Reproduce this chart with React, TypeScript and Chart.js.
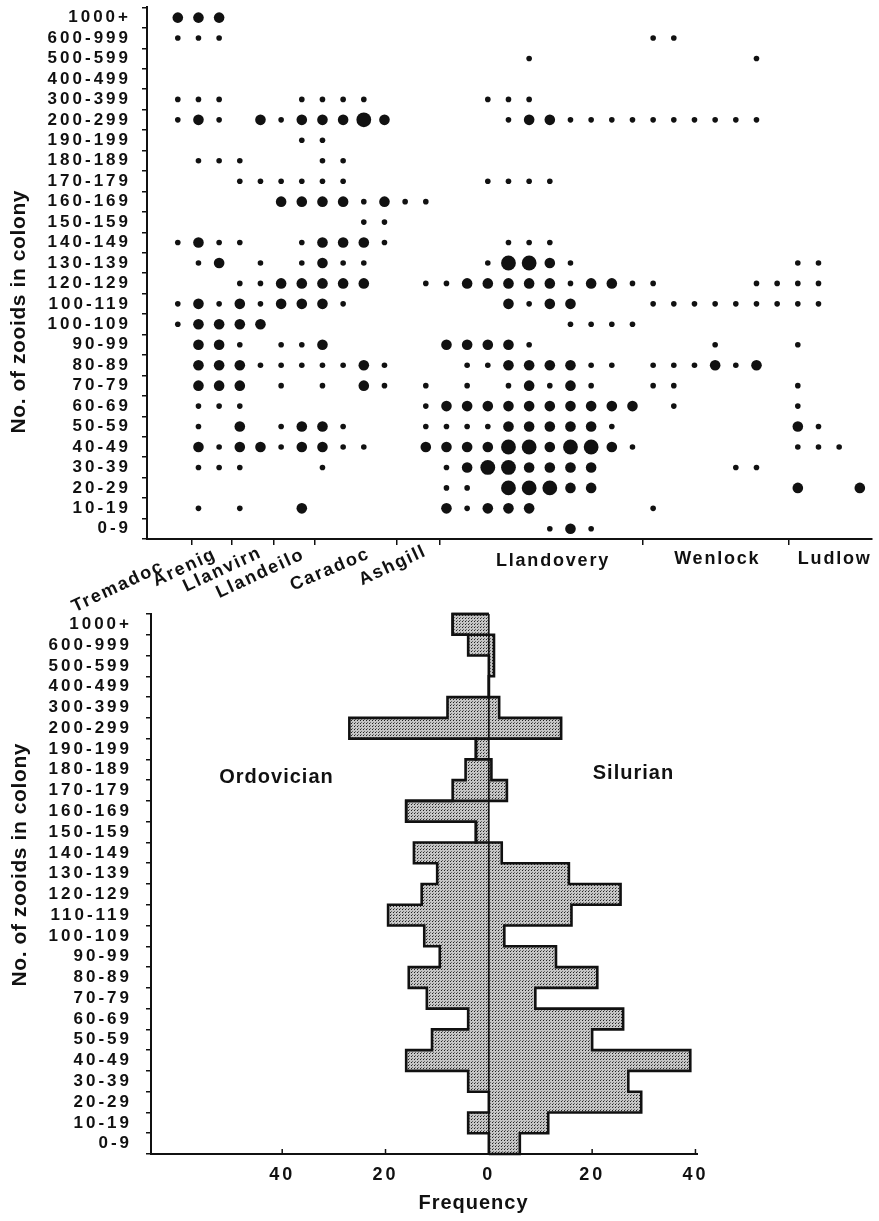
import React, { useEffect, useRef } from 'react';
import { Chart, registerables } from 'chart.js';

Chart.register(...registerables);

const FONT = '"Liberation Sans", Arial, Helvetica, sans-serif';
const INK = '#111';

// ---------- data: top chart (rows listed top to bottom) ----------
const topRowLabels = ['1000+', '600-999', '500-599', '400-499', '300-399', '200-299', '190-199', '180-189', '170-179', '160-169', '150-159', '140-149', '130-139', '120-129', '100-119', '100-109', '90-99', '80-89', '70-79', '60-69', '50-59', '40-49', '30-39', '20-29', '10-19', '0-9'];

// one string per row; one character per sample column 0..33
// '.' no colonies, '1' small dot, '2' large dot, '3' very large dot
const dotRows = [
  '222....... .......... .......... ....',
  '111....... .......... ...11..... ....',
  '.......... .......1.. ........1. ....',
  '.......... .......... .......... ....',
  '111...1111 .....111.. .......... ....',
  '121.212223 2.....1221 111111111. ....',
  '......11.. .......... .......... ....',
  '.111...11. .......... .......... ....',
  '...111111. .....1111. .......... ....',
  '.....22221 211....... .......... ....',
  '.........1 1......... .......... ....',
  '1211..1222 1.....111. .......... ....',
  '.12.1.1211 .....13321 .......... 11..',
  '...1122222 ..11222221 2211....11 11..',
  '121212221. ......2122 ...1111111 11..',
  '12222..... .........1 111....... ....',
  '.221.112.. ...22221.. ......1... 1...',
  '.222111112 1...112222 11.111212. ....',
  '.222.1.1.2 1.1.1.1212 1..11..... 1...',
  '.111...... ..12222222 222.1..... 1...',
  '.1.2.1221. ..11112222 21........ 21..',
  '.212212211 ..22223323 321....... 111.',
  '.111...1.. ...1233222 2......11. ....',
  '.......... ...11.3332 2......... 2..2',
  '.1.1..2... ...21222.. ...1...... ....',
  '.......... ........12 1......... ....',
];

const periodNames = ['Tremadoc', 'Arenig', 'Llanvirn', 'Llandeilo', 'Caradoc', 'Ashgill', 'Llandovery', 'Wenlock', 'Ludlow'];
// period boundaries in column units
const periodBounds = [0.67, 2.6, 4.62, 6.65, 10.6, 12.67, 22.5, 29.58];

// ---------- data: bottom chart (rows listed top to bottom) ----------
const bottomRowLabels = ['1000+', '600-999', '500-599', '400-499', '300-399', '200-299', '190-199', '180-189', '170-179', '160-169', '150-159', '140-149', '130-139', '120-129', '110-119', '100-109', '90-99', '80-89', '70-79', '60-69', '50-59', '40-49', '30-39', '20-29', '10-19', '0-9'];
const ordovician = [-7, -4, 0, 0, -8, -27, -2.5, -4.5, -7, -16, -2.5, -14.5, -10, -13, -19.5, -12.5, -9.5, -15.5, -12, -4, -11, -16, -4, 0, -4, 0];
const silurian = [0, 1, 1, 0, 2, 14, 0, 0.5, 3.5, 0, 0, 2.5, 15.5, 25.5, 16, 3, 13, 21, 9, 26, 20, 39, 27, 29.5, 11.5, 6];
const freqTicks = [-40, -20, 0, 20, 40];

// ---------- layout / style constants ----------
const dotRadius: Record<string, number> = { '1': 2.8, '2': 5.3, '3': 7.4 };
const TOP_XMIN = -1.49;
const TOP_XMAX = 33.57;
const TOP_H = 622;
// period label anchors: column position, px below axis, rotation (deg)
const periodLabelX = [-2.94, 0.29, 2.12, 3.95, 7.32, 10.36, 18.11, 26.06, 31.74];
const periodLabelDy = [48, 29, 31, 35, 31, 27, 22, 20, 20];
const periodLabelAngle = [-25, -25, -25, -25, -23, -25, 0, 0, 0];

function drawText(ctx: CanvasRenderingContext2D, text: string, x: number, y: number, size: number, spacing: number, angleDeg = 0) {
  ctx.save();
  (ctx as any).letterSpacing = spacing + 'px';
  ctx.font = `bold ${size}px ${FONT}`;
  ctx.fillStyle = INK;
  ctx.textAlign = 'center';
  ctx.textBaseline = 'middle';
  ctx.translate(x, y);
  ctx.rotate((angleDeg * Math.PI) / 180);
  ctx.fillText(text, spacing / 2, 0);
  ctx.restore();
}

function makeStipple(): CanvasPattern | string {
  const c = document.createElement('canvas');
  c.width = 3;
  c.height = 3;
  const g = c.getContext('2d');
  if (!g) return '#aaaaaa';
  g.fillStyle = '#c6c6c6';
  g.fillRect(0, 0, 3, 3);
  g.fillStyle = '#222222';
  g.fillRect(0, 0, 1, 1);
  g.fillStyle = '#6a6a6a';
  g.fillRect(1, 2, 1, 1);
  return g.createPattern(c, 'repeat') || '#aaaaaa';
}

const spacingPlugin = {
  id: 'tickSpacing',
  beforeDraw(chart: any) {
    (chart.ctx as any).letterSpacing = '3px';
  },
};

const tickFont = { family: FONT, size: 17, weight: 'bold' as const };

export default function App() {
  const topRef = useRef<HTMLCanvasElement>(null);
  const botRef = useRef<HTMLCanvasElement>(null);

  useEffect(() => {
    const charts: Chart[] = [];

    // ---------------- top bubble chart ----------------
    const points: { x: number; y: string; r: number }[] = [];
    dotRows.forEach((row, ri) => {
      const cells = row.replace(/ /g, '');
      for (let k = 0; k < cells.length; k++) {
        const c = cells[k];
        if (c !== '.') points.push({ x: k, y: topRowLabels[ri], r: dotRadius[c] });
      }
    });

    const topDecor = {
      id: 'topDecor',
      afterDraw(chart: any) {
        const ctx = chart.ctx as CanvasRenderingContext2D;
        const xs = chart.scales.x;
        const bottom = chart.chartArea.bottom;
        periodNames.forEach((name, i) => {
          drawText(ctx, name, xs.getPixelForValue(periodLabelX[i]), bottom + periodLabelDy[i], 18, 1.8, periodLabelAngle[i]);
        });
        drawText(ctx, 'No. of zooids in colony', 19, 312, 21, 0.6, -90);
      },
    };

    if (topRef.current) {
      charts.push(
        new Chart(topRef.current, {
          type: 'bubble',
          data: {
            datasets: [
              {
                data: points as any,
                backgroundColor: INK,
                borderWidth: 0,
                clip: false as any,
              },
            ],
          },
          options: {
            responsive: false,
            animation: false,
            devicePixelRatio: 1,
            events: [],
            layout: { padding: { top: 3, right: 4, left: 0, bottom: 0 } },
            plugins: { legend: { display: false }, tooltip: { enabled: false } },
            scales: {
              x: {
                type: 'linear',
                min: TOP_XMIN,
                max: TOP_XMAX,
                afterBuildTicks: (s: any) => {
                  s.ticks = periodBounds.map((v) => ({ value: v }));
                },
                afterFit: (s: any) => {
                  s.height = TOP_H - 539;
                  s.paddingLeft = 0;
                  s.paddingRight = 0;
                },
                grid: { display: true, drawOnChartArea: false, drawTicks: true, tickLength: 6, color: INK, lineWidth: 1.5 },
                border: { display: true, color: INK, width: 2 },
                ticks: { autoSkip: false, callback: () => '' },
              },
              y: {
                type: 'category',
                labels: topRowLabels,
                offset: true,
                afterFit: (s: any) => {
                  s.width = 147;
                  s.paddingTop = 0;
                  s.paddingBottom = 0;
                },
                grid: { display: true, offset: true, drawOnChartArea: false, drawTicks: true, tickLength: 5, color: INK, lineWidth: 1.5 },
                border: { display: true, color: INK, width: 2 },
                ticks: { autoSkip: false, color: INK, font: tickFont, padding: 11 },
              },
            },
          },
          plugins: [spacingPlugin, topDecor],
        } as any)
      );
    }

    // ---------------- bottom back-to-back histogram ----------------
    const stipple = makeStipple();

    const histDecor = {
      id: 'histDecor',
      afterDatasetsDraw(chart: any) {
        const ctx = chart.ctx as CanvasRenderingContext2D;
        const xs = chart.scales.x;
        const base = xs.getPixelForValue(0);
        ctx.save();
        ctx.strokeStyle = INK;
        ctx.lineWidth = 2.6;
        ctx.lineJoin = 'miter';
        chart.data.datasets.forEach((_: any, di: number) => {
          const els = chart.getDatasetMeta(di).data as any[];
          if (!els.length) return;
          ctx.beginPath();
          ctx.moveTo(base, els[0].y - els[0].height / 2);
          els.forEach((el) => {
            ctx.lineTo(el.x, el.y - el.height / 2);
            ctx.lineTo(el.x, el.y + el.height / 2);
          });
          const last = els[els.length - 1];
          ctx.lineTo(base, last.y + last.height / 2);
          ctx.stroke();
        });
        const els0 = chart.getDatasetMeta(0).data as any[];
        ctx.lineWidth = 1.6;
        ctx.beginPath();
        ctx.moveTo(base, els0[0].y - els0[0].height / 2);
        ctx.lineTo(base, chart.chartArea.bottom);
        ctx.stroke();
        ctx.restore();
      },
      afterDraw(chart: any) {
        const ctx = chart.ctx as CanvasRenderingContext2D;
        const xs = chart.scales.x;
        const ys = chart.scales.y;
        const bottom = chart.chartArea.bottom;
        ctx.save();
        ctx.strokeStyle = INK;
        ctx.lineWidth = 1.5;
        freqTicks.forEach((v) => {
          const px = xs.getPixelForValue(v);
          ctx.beginPath();
          ctx.moveTo(px, bottom);
          ctx.lineTo(px, bottom - 5);
          ctx.stroke();
        });
        ctx.restore();
        drawText(ctx, 'Ordovician', xs.getPixelForValue(-41.2), ys.getPixelForValue(7.35), 20, 1);
        drawText(ctx, 'Silurian', xs.getPixelForValue(27.9), ys.getPixelForValue(7.2), 20, 1);
        drawText(ctx, 'Frequency', 473, 603, 20, 1);
        drawText(ctx, 'No. of zooids in colony', 20, 265, 21, 0.6, -90);
      },
    };

    if (botRef.current) {
      charts.push(
        new Chart(botRef.current, {
          type: 'bar',
          data: {
            labels: bottomRowLabels,
            datasets: [
              { label: 'Ordovician', data: ordovician, backgroundColor: stipple as any, borderWidth: 0, barPercentage: 1, categoryPercentage: 1 },
              { label: 'Silurian', data: silurian, backgroundColor: stipple as any, borderWidth: 0, barPercentage: 1, categoryPercentage: 1 },
            ],
          },
          options: {
            indexAxis: 'y',
            responsive: false,
            animation: false,
            devicePixelRatio: 1,
            events: [],
            layout: { padding: { top: 14, right: 182, left: 0, bottom: 0 } },
            plugins: { legend: { display: false }, tooltip: { enabled: false } },
            scales: {
              x: {
                type: 'linear',
                stacked: true,
                min: -65.4,
                max: 40.3,
                afterBuildTicks: (s: any) => {
                  s.ticks = freqTicks.map((v) => ({ value: v }));
                },
                afterFit: (s: any) => {
                  s.height = 67;
                  s.paddingLeft = 0;
                  s.paddingRight = 0;
                },
                grid: { display: false, drawTicks: false },
                border: { display: true, color: INK, width: 2 },
                ticks: {
                  autoSkip: false,
                  color: INK,
                  font: { family: FONT, size: 18, weight: 'bold' },
                  padding: 10,
                  callback: (v: any) => String(Math.abs(Number(v))),
                },
              },
              y: {
                type: 'category',
                stacked: true,
                offset: true,
                afterFit: (s: any) => {
                  s.width = 151;
                  s.paddingTop = 0;
                  s.paddingBottom = 0;
                },
                grid: { display: true, offset: true, drawOnChartArea: false, drawTicks: true, tickLength: 5, color: INK, lineWidth: 1.5 },
                border: { display: true, color: INK, width: 2 },
                ticks: { autoSkip: false, color: INK, font: tickFont, padding: 14 },
              },
            },
          },
          plugins: [spacingPlugin, histDecor],
        } as any)
      );
    }

    return () => {
      charts.forEach((c) => c.destroy());
    };
  }, []);

  return (
    <div style={{ position: 'absolute', left: 0, top: 0, width: 879, height: 1221, background: '#fff' }}>
      <canvas ref={topRef} width={879} height={TOP_H} style={{ position: 'absolute', left: 0, top: 0, width: 879, height: TOP_H, display: 'block' }} />
      <canvas ref={botRef} width={879} height={621} style={{ position: 'absolute', left: 0, top: 600, width: 879, height: 621, display: 'block' }} />
    </div>
  );
}
